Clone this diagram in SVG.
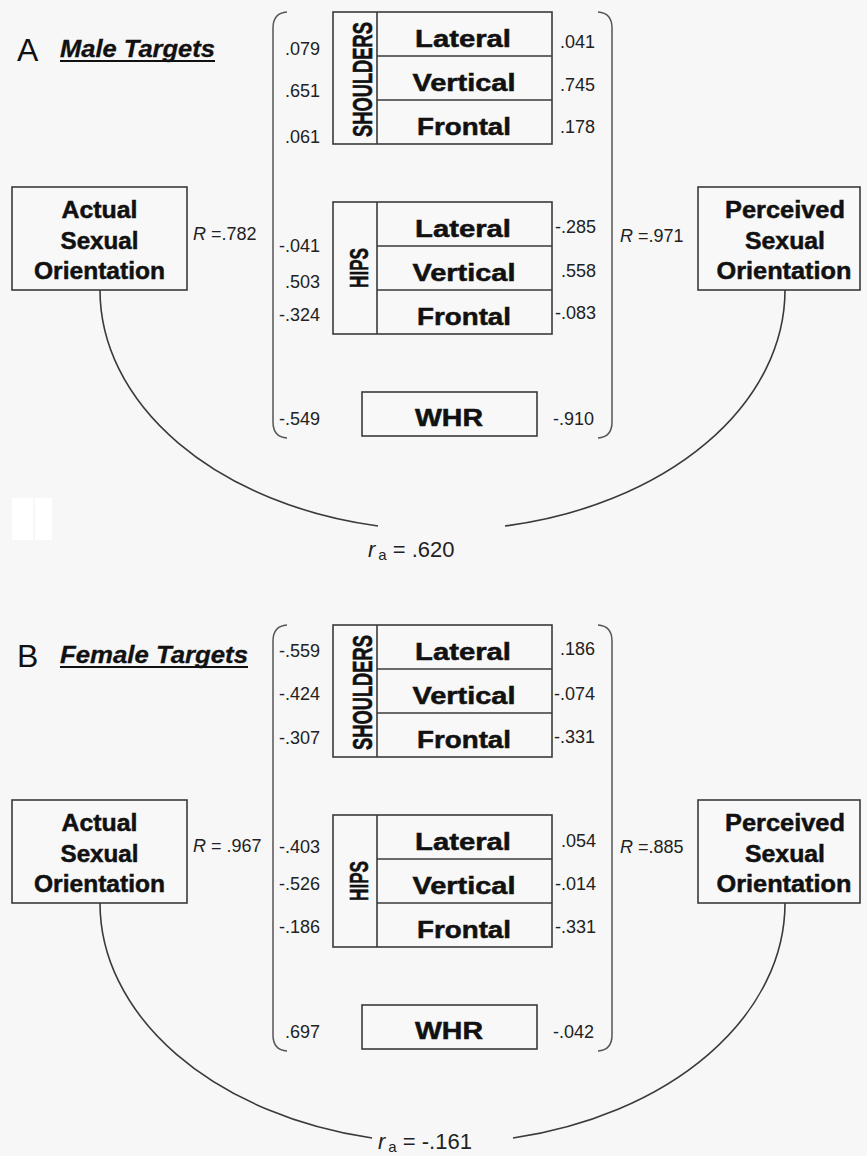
<svg xmlns="http://www.w3.org/2000/svg" width="867" height="1156" viewBox="0 0 867 1156">
<style>
.box{fill:#f8f8f8;stroke:#3a3a3a;stroke-width:1.6}
.ln{fill:none;stroke:#3a3a3a;stroke-width:1.6}
.br{fill:none;stroke:#555;stroke-width:1.5}
.lab{font-family:"Liberation Sans",Arial,sans-serif;font-weight:bold;font-size:24px;fill:#111;stroke:#111;stroke-width:0.5;text-anchor:middle}
.rot{font-family:"Liberation Sans",Arial,sans-serif;font-weight:bold;font-size:18px;fill:#111;stroke:#111;stroke-width:0.4;text-anchor:middle}
.num{font-family:"Liberation Sans",Arial,sans-serif;font-size:18px;fill:#222}
.l{text-anchor:end}
.r{text-anchor:end}
.big{font-family:"Liberation Sans",Arial,sans-serif;font-size:32px;fill:#111}
.ttl{font-family:"Liberation Sans",Arial,sans-serif;font-weight:bold;font-style:italic;font-size:23px;fill:#111;stroke:#111;stroke-width:0.3}
.ra{font-family:"Liberation Sans",Arial,sans-serif;font-size:22px;fill:#222}
</style>
<rect x="0" y="0" width="867" height="1156" fill="#f7f7f7"/>
<rect x="12" y="498" width="21" height="42" fill="#ffffff"/>
<rect x="35" y="498" width="17" height="42" fill="#ffffff"/>

<!-- Panel A -->
<g id="panelA-title">
<text class="big" x="17" y="61">A</text>
<text class="ttl" x="60" y="57" textLength="155" lengthAdjust="spacingAndGlyphs">Male Targets</text>
<line x1="60" y1="61" x2="215" y2="61" stroke="#111" stroke-width="2"/>
</g>
<g id="A-actual">
<rect class="box" x="12" y="187" width="175" height="103"/>
<text class="lab" x="99.5" y="218" textLength="76" lengthAdjust="spacingAndGlyphs">Actual</text>
<text class="lab" x="99.5" y="249" textLength="78" lengthAdjust="spacingAndGlyphs">Sexual</text>
<text class="lab" x="99.5" y="279" textLength="131" lengthAdjust="spacingAndGlyphs">Orientation</text>
</g>
<g id="A-perceived">
<rect class="box" x="698" y="187" width="162" height="103"/>
<text class="lab" x="785" y="218" textLength="120" lengthAdjust="spacingAndGlyphs">Perceived</text>
<text class="lab" x="785" y="249" textLength="80" lengthAdjust="spacingAndGlyphs">Sexual</text>
<text class="lab" x="784" y="279" textLength="135" lengthAdjust="spacingAndGlyphs">Orientation</text>
</g>
<g id="A-shoulders">
<rect class="box" x="333" y="12" width="219" height="132"/>
<line class="ln" x1="377" y1="12" x2="377" y2="144"/>
<line class="ln" x1="377" y1="56" x2="552" y2="56"/>
<line class="ln" x1="377" y1="100" x2="552" y2="100"/>
<text class="rot" transform="translate(372,79.5) rotate(-90) scale(1,1.5)" textLength="115" lengthAdjust="spacingAndGlyphs">SHOULDERS</text>
<text class="lab" x="463" y="47" textLength="96" lengthAdjust="spacingAndGlyphs">Lateral</text>
<text class="lab" x="464" y="91" textLength="103" lengthAdjust="spacingAndGlyphs">Vertical</text>
<text class="lab" x="464" y="135" textLength="94" lengthAdjust="spacingAndGlyphs">Frontal</text>
</g>
<g id="A-hips">
<rect class="box" x="333" y="202" width="219" height="132"/>
<line class="ln" x1="377" y1="202" x2="377" y2="334"/>
<line class="ln" x1="377" y1="246" x2="552" y2="246"/>
<line class="ln" x1="377" y1="290" x2="552" y2="290"/>
<text class="rot" transform="translate(368,268) rotate(-90) scale(1,1.4)" textLength="40" lengthAdjust="spacingAndGlyphs">HIPS</text>
<text class="lab" x="463" y="237" textLength="96" lengthAdjust="spacingAndGlyphs">Lateral</text>
<text class="lab" x="464" y="281" textLength="103" lengthAdjust="spacingAndGlyphs">Vertical</text>
<text class="lab" x="464" y="325" textLength="94" lengthAdjust="spacingAndGlyphs">Frontal</text>
</g>
<g id="A-whr">
<rect class="box" x="362" y="392" width="175" height="44"/>
<text class="lab" x="449" y="426" textLength="68" lengthAdjust="spacingAndGlyphs">WHR</text>
</g>
<g id="A-values">
<text class="num l" x="320" y="55">.079</text>
<text class="num l" x="320" y="97">.651</text>
<text class="num l" x="320" y="143">.061</text>
<text class="num l" x="320" y="252">-.041</text>
<text class="num l" x="320" y="288">.503</text>
<text class="num l" x="320" y="321">-.324</text>
<text class="num l" x="320" y="425">-.549</text>
<text class="num r" x="595" y="48">.041</text>
<text class="num r" x="595" y="91">.745</text>
<text class="num r" x="595" y="133">.178</text>
<text class="num r" x="596" y="233">-.285</text>
<text class="num r" x="596" y="277">.558</text>
<text class="num r" x="596" y="319">-.083</text>
<text class="num r" x="594" y="425">-.910</text>
<text class="num" x="193" y="240"><tspan font-style="italic">R</tspan> =.782</text>
<text class="num" x="620" y="242"><tspan font-style="italic">R</tspan> =.971</text>
<text class="ra" x="368" y="557"><tspan font-style="italic">r</tspan><tspan font-size="15" dx="3" dy="3">a</tspan><tspan dy="-3"> = .620</tspan></text>
</g>
<g id="A-connectors">
<path class="br" d="M 287 12 Q 273 13 273 28 L 273 422 Q 273 437 287 438"/>
<path class="br" d="M 598 12 Q 612 13 612 28 L 612 422 Q 612 437 598 438"/>
<path class="ln" d="M 100 290 A 342.5 240 0 0 0 378 526"/>
<path class="ln" d="M 505 526 A 342.5 240 0 0 0 785 290"/>
</g>

<!-- Panel B -->
<g id="panelB-title">
<text class="big" x="17" y="667">B</text>
<text class="ttl" x="60" y="663" textLength="188" lengthAdjust="spacingAndGlyphs">Female Targets</text>
<line x1="60" y1="667" x2="248" y2="667" stroke="#111" stroke-width="2"/>
</g>
<g id="B-actual">
<rect class="box" x="12" y="800" width="175" height="103"/>
<text class="lab" x="99.5" y="831" textLength="76" lengthAdjust="spacingAndGlyphs">Actual</text>
<text class="lab" x="99.5" y="862" textLength="78" lengthAdjust="spacingAndGlyphs">Sexual</text>
<text class="lab" x="99.5" y="892" textLength="131" lengthAdjust="spacingAndGlyphs">Orientation</text>
</g>
<g id="B-perceived">
<rect class="box" x="698" y="800" width="162" height="103"/>
<text class="lab" x="785" y="831" textLength="120" lengthAdjust="spacingAndGlyphs">Perceived</text>
<text class="lab" x="785" y="862" textLength="80" lengthAdjust="spacingAndGlyphs">Sexual</text>
<text class="lab" x="784" y="892" textLength="135" lengthAdjust="spacingAndGlyphs">Orientation</text>
</g>
<g id="B-shoulders">
<rect class="box" x="333" y="625" width="219" height="132"/>
<line class="ln" x1="377" y1="625" x2="377" y2="757"/>
<line class="ln" x1="377" y1="669" x2="552" y2="669"/>
<line class="ln" x1="377" y1="713" x2="552" y2="713"/>
<text class="rot" transform="translate(372,692.5) rotate(-90) scale(1,1.5)" textLength="115" lengthAdjust="spacingAndGlyphs">SHOULDERS</text>
<text class="lab" x="463" y="660" textLength="96" lengthAdjust="spacingAndGlyphs">Lateral</text>
<text class="lab" x="464" y="704" textLength="103" lengthAdjust="spacingAndGlyphs">Vertical</text>
<text class="lab" x="464" y="748" textLength="94" lengthAdjust="spacingAndGlyphs">Frontal</text>
</g>
<g id="B-hips">
<rect class="box" x="333" y="815" width="219" height="132"/>
<line class="ln" x1="377" y1="815" x2="377" y2="947"/>
<line class="ln" x1="377" y1="859" x2="552" y2="859"/>
<line class="ln" x1="377" y1="903" x2="552" y2="903"/>
<text class="rot" transform="translate(368,881) rotate(-90) scale(1,1.4)" textLength="40" lengthAdjust="spacingAndGlyphs">HIPS</text>
<text class="lab" x="463" y="850" textLength="96" lengthAdjust="spacingAndGlyphs">Lateral</text>
<text class="lab" x="464" y="894" textLength="103" lengthAdjust="spacingAndGlyphs">Vertical</text>
<text class="lab" x="464" y="938" textLength="94" lengthAdjust="spacingAndGlyphs">Frontal</text>
</g>
<g id="B-whr">
<rect class="box" x="362" y="1005" width="175" height="44"/>
<text class="lab" x="449" y="1039" textLength="68" lengthAdjust="spacingAndGlyphs">WHR</text>
</g>
<g id="B-values">
<text class="num l" x="320" y="657">-.559</text>
<text class="num l" x="320" y="700">-.424</text>
<text class="num l" x="320" y="744">-.307</text>
<text class="num l" x="320" y="853">-.403</text>
<text class="num l" x="320" y="890">-.526</text>
<text class="num l" x="320" y="933">-.186</text>
<text class="num l" x="320" y="1038">.697</text>
<text class="num r" x="595" y="655">.186</text>
<text class="num r" x="595" y="700">-.074</text>
<text class="num r" x="595" y="743">-.331</text>
<text class="num r" x="596" y="847">.054</text>
<text class="num r" x="596" y="890">-.014</text>
<text class="num r" x="596" y="933">-.331</text>
<text class="num r" x="594" y="1038">-.042</text>
<text class="num" x="193" y="852"><tspan font-style="italic">R</tspan> = .967</text>
<text class="num" x="620" y="853"><tspan font-style="italic">R</tspan> =.885</text>
<text class="ra" x="378" y="1149"><tspan font-style="italic">r</tspan><tspan font-size="15" dx="3" dy="3">a</tspan><tspan dy="-3"> = -.161</tspan></text>
</g>
<g id="B-connectors">
<path class="br" d="M 287 625 Q 273 626 273 641 L 273 1035 Q 273 1050 287 1051"/>
<path class="br" d="M 598 625 Q 612 626 612 641 L 612 1035 Q 612 1050 598 1051"/>
<path class="ln" d="M 100 903 A 342.5 240 0 0 0 372 1138"/>
<path class="ln" d="M 513 1138 A 342.5 240 0 0 0 785 903"/>
</g>
</svg>
